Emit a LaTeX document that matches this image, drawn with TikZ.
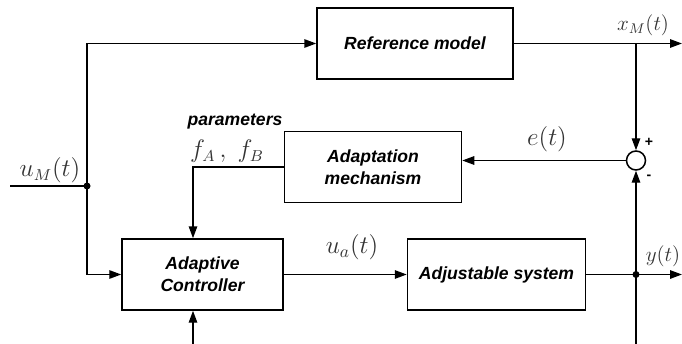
\documentclass[tikz,border=0pt]{standalone}
\usepackage{fontspec}
\setsansfont{Liberation Sans}
\usepackage{tikz}
\usetikzlibrary{arrows.meta,positioning,calc}

\begin{document}
\begin{tikzpicture}[x=0.2mm, y=-0.2mm, line width=0.85pt,
  blk/.style={draw, align=center, inner sep=2pt, minimum height=14.2mm,
    font=\sffamily\bfseries\itshape\fontsize{10}{12.5}\selectfont},
  txt/.style={font=\sffamily\bfseries\itshape\fontsize{10}{12.5}\selectfont, inner sep=1pt},
  sig/.style={font=\fontsize{13.5}{15}\selectfont, text=black!80, inner sep=1pt},
  sgn/.style={font=\sffamily\bfseries\fontsize{8}{9}\selectfont, inner sep=0pt},
  arr/.style={-{Triangle[length=2.4mm,width=1.7mm]}},
  dot/.style={circle, fill, inner sep=0pt, minimum size=1.4mm}]
\useasboundingbox (0,0) rectangle (682,344);
% blocks
\node[blk, minimum width=39.2mm] (ref) at (415,43.5) {Reference model};
\node[blk, minimum width=32.2mm] (ctrl) at (202.5,274.5) {Adaptive\\Controller};
\node[blk, minimum width=35.6mm, right=24.6mm of ctrl] (plant) {Adjustable system};
\node[blk, minimum width=35.4mm, above=7mm of ctrl.north east, anchor=south west] (adapt) {Adaptation\\mechanism};
\node[circle, draw, minimum size=3.8mm, inner sep=0pt] (sum) at (636,160.5) {};
% free ends
\coordinate (uin) at (10,186);
\coordinate (jin) at (87,186);
\coordinate (xout) at (682,43.5);
\coordinate (yout) at (682,274.5);
\coordinate (jout) at (sum |- plant.east);
\coordinate (fb) at (636,344);
\coordinate (pin) at (193,344);
% connectors
\draw (uin) -- (jin);
\draw[arr] (jin) |- (ref.west);
\draw[arr] (jin) |- (ctrl.west);
\draw[arr] (ref.east) -- (xout);
\draw[arr] (ref.east -| sum) -- (sum.north);
\draw[arr] (sum.west) -- (sum.west -| adapt.east);
\draw[arr] (adapt.west) -| (ctrl.north -| pin);
\draw[arr] (pin) -- (ctrl.south -| pin);
\draw[arr] (ctrl.east) -- (plant.west);
\draw[arr] (plant.east) -- (yout);
\draw[arr] (fb) -- (sum.south);
\node[dot] (jindot) at (jin) {};
\node[dot] (joutdot) at (jout) {};
% labels
\node[sig] (uM) at (50,170) {$u_M(t)$};
\node[sig, font=\fontsize{12}{14}\selectfont] (xM) at (643,25) {$x_M(t)$};
\node[sig, font=\fontsize{14}{16}\selectfont] (err) at (547,139) {$e(t)$};
\node[sig, font=\fontsize{14}{16}\selectfont] (ua) at (352,247) {$u_a(t)$};
\node[sig, font=\fontsize{12.5}{14}\selectfont] (yl) at (663,256) {$y(t)$};
\node[txt] (par) at (235,122) {parameters};
\node[sig] (fAB) at (227,151) {$f_A\,,\;f_B$};
\node[sgn] (plus) at (649,142) {+};
\node[sgn] (minus) at (649,177) {-};
\end{tikzpicture}
\end{document}
